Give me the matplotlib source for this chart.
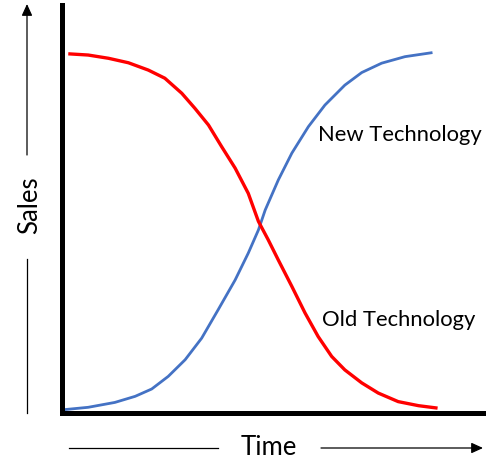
import matplotlib
matplotlib.use("Agg")
import matplotlib.pyplot as plt
from matplotlib.lines import Line2D
from matplotlib.patches import FancyArrowPatch

# Data (time and sales on a 0-100 scale)
new_time = [0.4, 6.3, 12.6, 17.4, 21.3, 25.2, 29.2, 33.1, 37.0, 41.0, 44.1, 46.5,
            48.1, 51.2, 54.4, 58.3, 62.2, 66.9, 70.9, 75.6, 81.1, 87.6]
new_sales = [0.5, 1.1, 2.3, 3.8, 5.6, 8.7, 12.8, 18.1, 25.1, 32.4, 39.0, 44.7,
             49.6, 57.0, 63.6, 70.1, 75.4, 80.3, 83.4, 85.7, 87.3, 88.3]
old_time = [1.6, 6.3, 11.1, 15.8, 20.5, 24.4, 28.4, 31.5, 34.7, 37.8, 41.0, 44.1,
            46.5, 48.8, 51.2, 54.4, 57.5, 60.6, 63.8, 66.9, 70.9, 74.8, 79.5, 84.3, 88.8]
old_sales = [88.0, 87.7, 86.9, 85.8, 84.0, 82.0, 78.3, 74.6, 70.5, 65.2, 59.9, 53.7,
             46.8, 42.3, 37.3, 30.8, 24.3, 18.5, 13.6, 10.3, 7.1, 4.6, 2.5, 1.5, 0.9]
series_labels = ["New Technology", "Old Technology"]
x_label = "Time"
y_label = "Sales"

W, H = 486, 473
fig = plt.figure(figsize=(W / 100, H / 100), dpi=100)
fig.patch.set_facecolor("white")
L, R, T, B = 61.5, 485, 5, 413
ax = fig.add_axes([L / W, (H - B) / H, (R - L) / W, (B - T) / H])
ax.set_xlim(0, 100)
ax.set_ylim(-0.3, 100)
ax.plot(new_time, new_sales, color="#4472C4", lw=2.0, solid_joinstyle="round",
        solid_capstyle="butt")
ax.plot(old_time, old_sales, color="#FF0000", lw=2.4, solid_joinstyle="round",
        solid_capstyle="butt")

for s in ["top", "right"]:
    ax.spines[s].set_visible(False)
for s in ["left", "bottom"]:
    ax.spines[s].set_linewidth(3.6)
    ax.spines[s].set_color("black")
ax.set_xticks([])
ax.set_yticks([])

font = "Lato"
ax.text(0.605, 0.682, series_labels[0], transform=ax.transAxes, fontsize=15.8,
        family=font, va="center", ha="left")
ax.text(0.614, 0.229, series_labels[1], transform=ax.transAxes, fontsize=15.8,
        family=font, va="center", ha="left")

def fx(px):
    return px / W

def fy(py):
    return 1 - py / H

fig.text(fx(269), fy(447), x_label, fontsize=18.5, family=font, ha="center", va="center")
fig.text(fx(30), fy(205), y_label, fontsize=18.5, family=font, ha="center", va="center",
         rotation=90)

# axis direction arrows
fig.add_artist(Line2D([fx(69), fx(218)], [fy(448), fy(448)], color="black", lw=0.9))
fig.add_artist(Line2D([fx(27), fx(27)], [fy(259), fy(413)], color="black", lw=0.9))
fig.patches.append(FancyArrowPatch(
    (fx(321), fy(448)), (fx(483), fy(448)), transform=fig.transFigure,
    arrowstyle="-|>,head_length=7,head_width=3.2", color="black", lw=0.9,
    shrinkA=0, shrinkB=0, figure=fig))
fig.patches.append(FancyArrowPatch(
    (fx(27), fy(155)), (fx(27), fy(4)), transform=fig.transFigure,
    arrowstyle="-|>,head_length=7,head_width=3.2", color="black", lw=0.9,
    shrinkA=0, shrinkB=0, figure=fig))

fig.savefig("out.png", dpi=100)
